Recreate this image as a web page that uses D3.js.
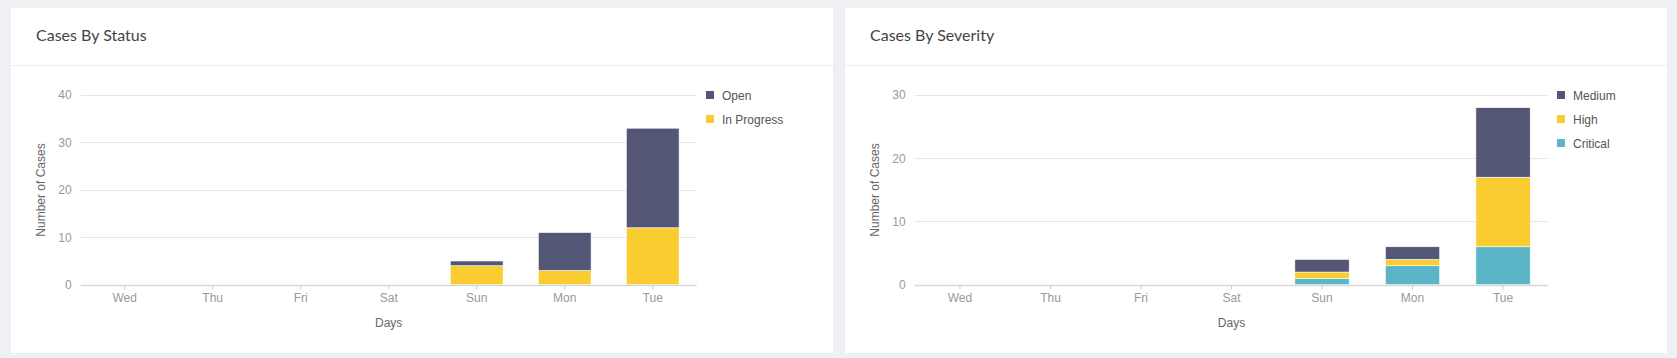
<!DOCTYPE html>
<html><head><meta charset="utf-8">
<script src="https://cdn.jsdelivr.net/npm/d3@7"></script>
<style>
html,body{margin:0;padding:0;background:#eff0f4;}
svg{display:block;}
</style></head>
<body>
<svg id="chart" width="1677" height="358"></svg>
<script>
const days = ["Wed","Thu","Fri","Sat","Sun","Mon","Tue"];

// Cases By Status
const statusSeries = ["In Progress","Open"];
const statusInProgress = [0,0,0,0,4,3,12];
const statusOpen = [0,0,0,0,1,8,21];
const statusTicks = [0,10,20,30,40];
const statusLegend = ["Open","In Progress"];

// Cases By Severity
const severitySeries = ["Critical","High","Medium"];
const severityCritical = [0,0,0,0,1,3,6];
const severityHigh = [0,0,0,0,1,1,11];
const severityMedium = [0,0,0,0,2,2,11];
const severityTicks = [0,10,20,30];
const severityLegend = ["Medium","High","Critical"];

const colors = {"Open":"#535675","In Progress":"#f9cd2f","Medium":"#535675","High":"#f9cd2f","Critical":"#5bb5c8"};

const svg = d3.select("#chart");
svg.append("rect").attr("width",1677).attr("height",358).attr("fill","#eff0f4");

function panel(cfg){
  const g = svg.append("g");
  g.append("rect").attr("x",cfg.px).attr("y",8).attr("width",822).attr("height",345).attr("fill","#fff");
  g.append("text").attr("x",cfg.px+25).attr("y",41).text(cfg.title)
    .attr("font-family","Lato, 'Open Sans', sans-serif").attr("font-weight",400).attr("font-size",16).attr("fill","#444");
  g.append("line").attr("x1",cfg.px).attr("x2",cfg.px+822).attr("y1",65.5).attr("y2",65.5)
    .attr("stroke","#eeeeee").attr("stroke-width",1);

  const x = d3.scaleBand().domain(days).range([cfg.x0,cfg.x1]).paddingInner(0.4).paddingOuter(0.2);
  const y = d3.scaleLinear().domain([0,cfg.ymax]).range([284.7,95]);

  // gridlines
  g.append("g").selectAll("line").data(cfg.ticks.filter(t=>t>0)).join("line")
    .attr("x1",cfg.x0).attr("x2",cfg.x1)
    .attr("y1",d=>Math.round(y(d))+0.5).attr("y2",d=>Math.round(y(d))+0.5)
    .attr("stroke","#e6e6e6");

  // y axis labels
  const ya = g.append("g").attr("transform",`translate(${cfg.x0},0)`)
    .call(d3.axisLeft(y).tickValues(cfg.ticks).tickSize(0).tickPadding(cfg.ypad));
  ya.select(".domain").remove();
  ya.selectAll("text").attr("font-family","'Liberation Sans', Arial, sans-serif").attr("font-size",12).attr("fill","#999");

  // stacked bars
  const rows = days.map((d,i)=>{const o={day:d}; cfg.series.forEach(s=>o[s]=cfg.values[s][i]); return o;});
  const stack = d3.stack().keys(cfg.series)(rows);
  g.append("g").selectAll("g").data(stack).join("g").attr("fill",d=>colors[d.key])
    .selectAll("rect").data(d=>d.filter(v=>v[1]-v[0]>0)).join("rect")
    .attr("x",d=>x(d.data.day)).attr("width",x.bandwidth())
    .attr("y",d=>y(d[1])).attr("height",d=>y(d[0])-y(d[1]))
    .attr("stroke","#fff").attr("stroke-width",0.6);

  // x axis
  const xa = g.append("g").attr("transform",`translate(0,${285.5})`)
    .call(d3.axisBottom(x).tickSize(4).tickPadding(4));
  xa.select(".domain").attr("stroke","#d8d8d8").attr("stroke-width",1.5)
    .attr("d",`M${cfg.x0},0H${cfg.x1}`);
  xa.selectAll(".tick line").attr("stroke","#ccc");
  xa.selectAll("text").attr("font-family","'Liberation Sans', Arial, sans-serif").attr("font-size",12).attr("fill","#999");

  // axis titles
  g.append("text").attr("x",(cfg.x0+cfg.x1)/2).attr("y",327).attr("text-anchor","middle").text("Days")
    .attr("font-family","'Liberation Sans', Arial, sans-serif").attr("font-size",12).attr("fill","#666");
  g.append("text").attr("transform",`translate(${cfg.ytx},190) rotate(-90)`).attr("text-anchor","middle")
    .text("Number of Cases").attr("font-family","'Liberation Sans', Arial, sans-serif").attr("font-size",12).attr("fill","#666");

  // legend
  const lg = g.append("g").selectAll("g").data(cfg.legend).join("g")
    .attr("transform",(d,i)=>`translate(${cfg.lx},${95+i*24})`);
  lg.append("rect").attr("x",0).attr("y",-4).attr("width",8).attr("height",8).attr("fill",d=>colors[d]);
  lg.append("text").attr("x",16).attr("y",4.5).text(d=>d)
    .attr("font-family","'Liberation Sans', Arial, sans-serif").attr("font-size",12).attr("fill","#555");
}

panel({px:11,title:"Cases By Status",x0:80.7,x1:696.7,ymax:40,ticks:statusTicks,ypad:9,ytx:45,
  series:statusSeries,values:{"In Progress":statusInProgress,"Open":statusOpen},legend:statusLegend,lx:706});
panel({px:845,title:"Cases By Severity",x0:914.7,x1:1548.3,ymax:30,ticks:severityTicks,ypad:9,ytx:879,
  series:severitySeries,values:{"Critical":severityCritical,"High":severityHigh,"Medium":severityMedium},legend:severityLegend,lx:1557});
</script>
</body></html>
